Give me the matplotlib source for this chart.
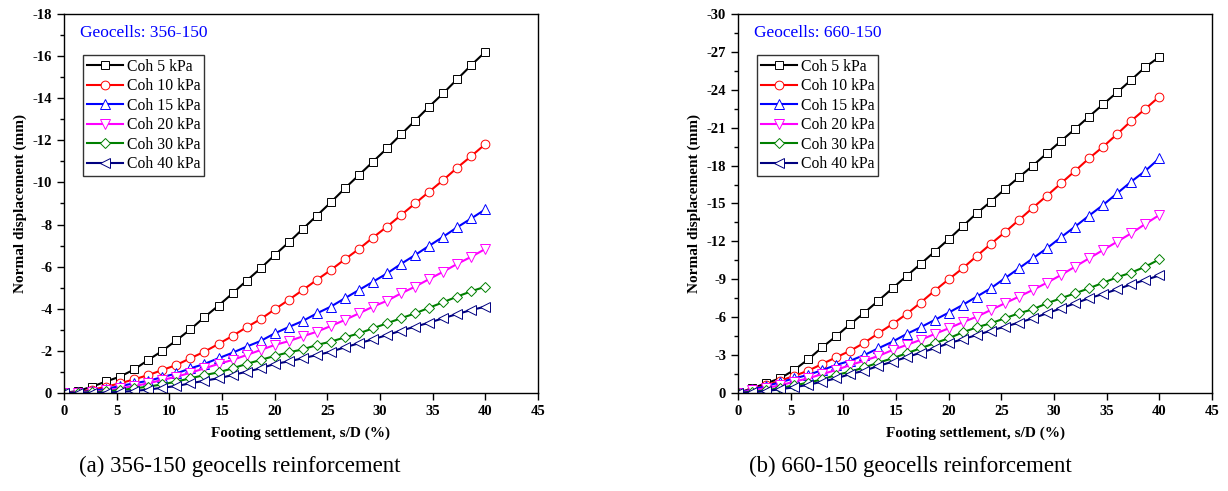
import matplotlib
matplotlib.use('Agg')
import matplotlib.pyplot as plt
import numpy as np
from matplotlib.ticker import MultipleLocator

plt.rcParams['font.family'] = ['Liberation Serif', 'DejaVu Serif']
plt.rcParams['axes.unicode_minus'] = False

# settlement ratio s/D (%) at each recorded step
settlement = [0, 1.33, 2.67, 4.0, 5.33, 6.67, 8.0, 9.33, 10.67, 12.0, 13.33,
              14.67, 16.0, 17.33, 18.67, 20.0, 21.33, 22.67, 24.0, 25.33, 26.67,
              28.0, 29.33, 30.67, 32.0, 33.33, 34.67, 36.0, 37.33, 38.67, 40.0]

labels = ['Coh 5 kPa', 'Coh 10 kPa', 'Coh 15 kPa', 'Coh 20 kPa', 'Coh 30 kPa', 'Coh 40 kPa']

# geocells 356-150, normal displacement (mm, magnitude)
g356_c5 = [0, 0.1, 0.3, 0.55, 0.78, 1.12, 1.57, 2.0, 2.5, 3.02, 3.6, 4.15, 4.73, 5.33, 5.92,
           6.55, 7.15, 7.79, 8.42, 9.05, 9.72, 10.35, 10.98, 11.62, 12.28, 12.93, 13.6,
           14.23, 14.9, 15.57, 16.2]
g356_c10 = [0, 0.05, 0.15, 0.3, 0.46, 0.65, 0.85, 1.09, 1.33, 1.65, 1.96, 2.33, 2.71, 3.12,
            3.51, 3.97, 4.42, 4.89, 5.37, 5.84, 6.35, 6.84, 7.38, 7.9, 8.45, 9.0, 9.56,
            10.11, 10.7, 11.25, 11.82]
g356_c15 = [0, 0.03, 0.1, 0.2, 0.33, 0.46, 0.58, 0.75, 0.93, 1.17, 1.38, 1.65, 1.91, 2.2,
            2.47, 2.83, 3.13, 3.42, 3.78, 4.1, 4.5, 4.89, 5.28, 5.68, 6.13, 6.55, 6.99,
            7.42, 7.87, 8.29, 8.72]
g356_c20 = [0, 0.01, 0.05, 0.12, 0.22, 0.33, 0.46, 0.62, 0.77, 0.96, 1.17, 1.38, 1.57, 1.8,
            2.04, 2.28, 2.46, 2.69, 2.91, 3.18, 3.47, 3.78, 4.1, 4.38, 4.73, 5.05, 5.41,
            5.76, 6.13, 6.47, 6.84]
g356_c30 = [0, 0.01, 0.03, 0.08, 0.14, 0.22, 0.3, 0.41, 0.54, 0.7, 0.85, 0.98, 1.17, 1.38,
            1.57, 1.76, 1.93, 2.07, 2.28, 2.44, 2.64, 2.83, 3.07, 3.31, 3.55, 3.78, 4.05,
            4.31, 4.58, 4.83, 5.05]
g356_c40 = [0, 0, 0.01, 0.02, 0.05, 0.1, 0.16, 0.25, 0.33, 0.46, 0.58, 0.7, 0.85, 1.01,
            1.17, 1.38, 1.5, 1.65, 1.8, 1.96, 2.17, 2.36, 2.55, 2.75, 2.96, 3.15, 3.34,
            3.55, 3.75, 3.94, 4.1]

# geocells 660-150
g660_c5 = [0, 0.37, 0.77, 1.16, 1.82, 2.67, 3.62, 4.51, 5.46, 6.36, 7.31, 8.29, 9.26, 10.21,
           11.19, 12.17, 13.2, 14.23, 15.15, 16.13, 17.08, 18.0, 18.98, 19.95, 20.9, 21.88,
           22.86, 23.8, 24.78, 25.8, 26.6]
g660_c10 = [0, 0.3, 0.6, 0.97, 1.35, 1.77, 2.3, 2.83, 3.35, 3.98, 4.73, 5.46, 6.25, 7.15,
            8.1, 9.0, 9.87, 10.85, 11.8, 12.72, 13.7, 14.67, 15.62, 16.6, 17.58, 18.58,
            19.5, 20.5, 21.54, 22.49, 23.46]
g660_c15 = [0, 0.28, 0.55, 0.85, 1.16, 1.43, 1.82, 2.22, 2.56, 3.01, 3.54, 4.06, 4.67, 5.2,
            5.78, 6.36, 6.97, 7.63, 8.29, 9.08, 9.87, 10.66, 11.46, 12.33, 13.17, 14.04,
            14.89, 15.81, 16.73, 17.58, 18.58]
g660_c20 = [0, 0.2, 0.4, 0.6, 0.9, 1.16, 1.5, 1.82, 2.22, 2.56, 2.93, 3.4, 3.8, 4.2, 4.67,
            5.12, 5.6, 6.04, 6.57, 7.1, 7.63, 8.16, 8.73, 9.34, 10.0, 10.66, 11.32, 11.98,
            12.64, 13.38, 14.09]
g660_c30 = [0, 0.1, 0.2, 0.4, 0.6, 0.82, 1.08, 1.43, 1.69, 2.03, 2.4, 2.75, 3.14, 3.54,
            3.94, 4.33, 4.8, 5.2, 5.52, 5.91, 6.31, 6.63, 7.1, 7.5, 7.89, 8.29, 8.73, 9.16,
            9.53, 10.0, 10.58]
g660_c40 = [0, 0.05, 0.15, 0.3, 0.45, 0.65, 0.9, 1.16, 1.5, 1.77, 2.14, 2.48, 2.83, 3.19,
            3.54, 3.94, 4.25, 4.59, 4.93, 5.25, 5.57, 5.91, 6.31, 6.7, 7.1, 7.5, 7.84, 8.21,
            8.6, 8.95, 9.3]

colors = ['black', 'red', 'blue', 'magenta', 'green', '#000080']
markers = ['s', 'o', '^', 'v', 'D', '<']
msizes = [5.8, 6.3, 7, 7, 5.2, 7]


def draw_panel(ax, series, ymax, ystep, tag):
    x = np.array(settlement)
    for vals, lab, c, m, ms in zip(series, labels, colors, markers, msizes):
        ax.plot(x, -np.array(vals), color=c, lw=1.5, marker=m, ms=ms,
                mfc='white', mec=c, mew=0.7, label=lab)
    ax.set_xlim(0, 45)
    ax.set_ylim(0, -ymax)
    ax.xaxis.set_major_locator(MultipleLocator(5))
    ax.yaxis.set_major_locator(MultipleLocator(ystep))
    ax.yaxis.set_minor_locator(MultipleLocator(ystep / 2))
    ax.tick_params(axis='both', which='major', direction='out', length=5, width=1,
                   labelsize=10.5, top=False, right=False)
    ax.tick_params(axis='y', which='minor', direction='out', length=3, width=1)
    for lbl in ax.get_xticklabels() + ax.get_yticklabels():
        lbl.set_fontweight('bold')
    for sp in ax.spines.values():
        sp.set_linewidth(1)
    ax.set_xlabel('Footing settlement, s/D (%)', fontsize=11, fontweight='bold', labelpad=6)
    ax.set_ylabel('Normal displacement (mm)', fontsize=11, fontweight='bold', labelpad=4)
    ax.text(0.034, 0.95, tag, transform=ax.transAxes, color='blue', fontsize=12.5,
            ha='left', va='center')
    leg = ax.legend(loc='upper left', bbox_to_anchor=(0.04, 0.892), fontsize=11.3,
                    frameon=True, fancybox=False, borderpad=0.25, labelspacing=0.22,
                    handlelength=2.3, handletextpad=0.25, borderaxespad=0)
    leg.get_frame().set_edgecolor('black')
    leg.get_frame().set_linewidth(1)


fig = plt.figure(figsize=(12.28, 4.91), dpi=100)
ax1 = fig.add_axes([0.0521, 0.1996, 0.386, 0.772])
ax2 = fig.add_axes([0.601, 0.1996, 0.386, 0.772])

draw_panel(ax1, [g356_c5, g356_c10, g356_c15, g356_c20, g356_c30, g356_c40],
           18, 2, 'Geocells: 356-150')
draw_panel(ax2, [g660_c5, g660_c10, g660_c15, g660_c20, g660_c30, g660_c40],
           30, 3, 'Geocells: 660-150')

fig.text(0.195, 0.051, '(a) 356-150 geocells reinforcement', ha='center', va='center',
         fontsize=16.5)
fig.text(0.741, 0.051, '(b) 660-150 geocells reinforcement', ha='center', va='center',
         fontsize=16.5)

fig.savefig('out.png', dpi=100)
